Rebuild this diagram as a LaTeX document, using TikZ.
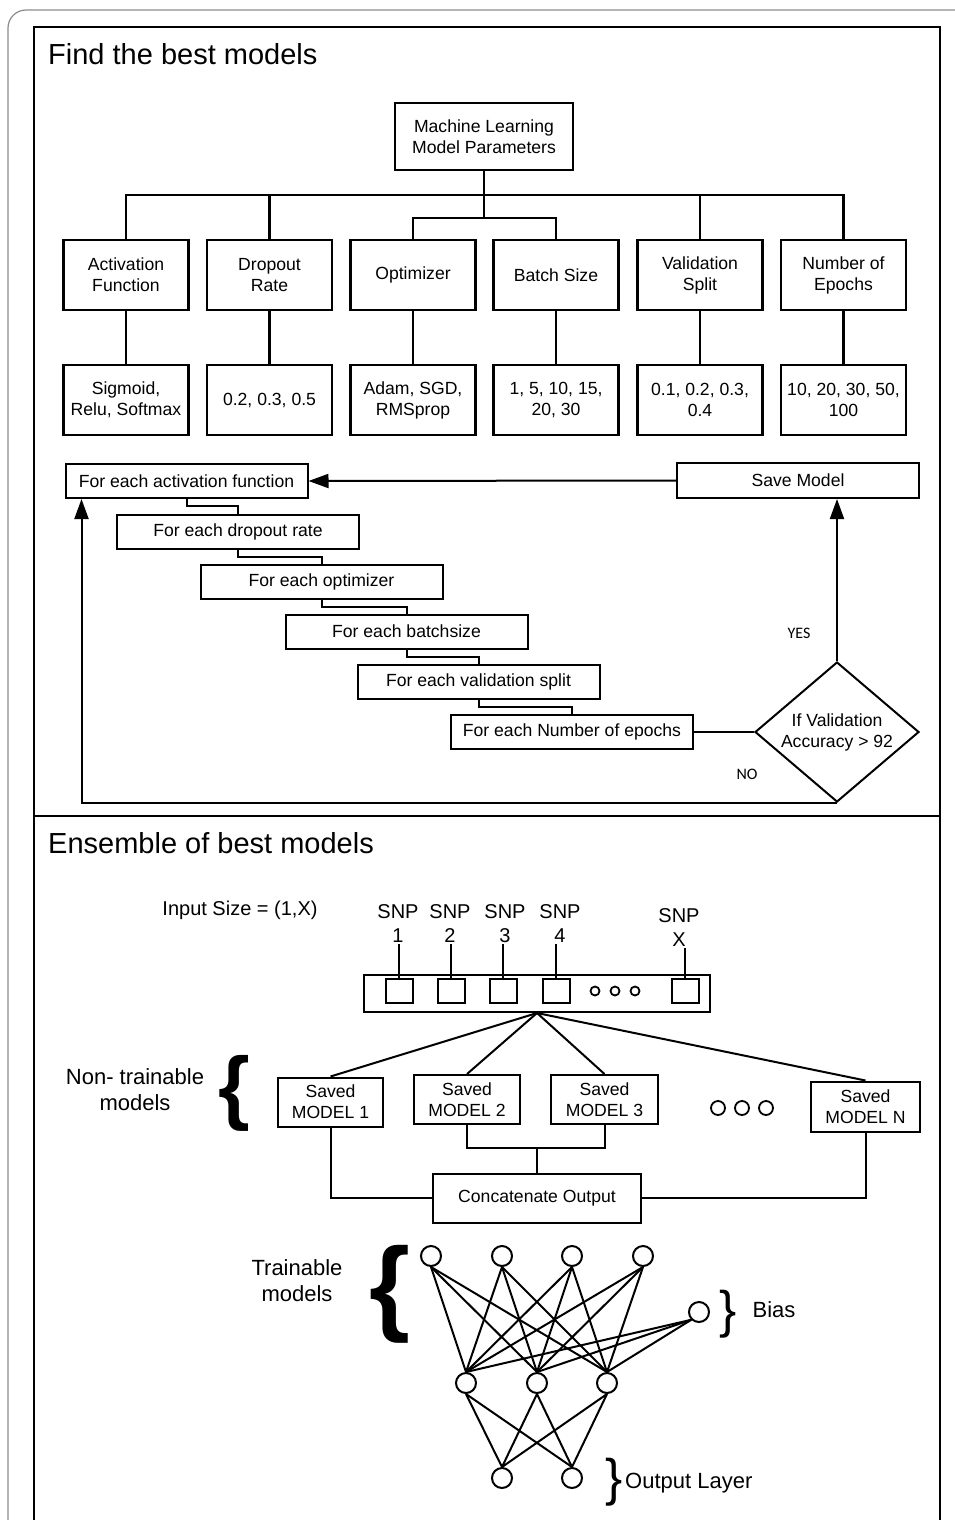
\documentclass[tikz,border=0pt]{standalone}
\usepackage{fontspec}
\setmainfont{Liberation Sans}
\newfontfamily\yesnofont{Carlito}
\usetikzlibrary{arrows.meta,shapes.geometric,calc}

\tikzset{
  lw/.style={line width=2pt},
  hier/.style={line width=2.4pt},
  txt/.style={font=\fontsize{17.6}{21}\selectfont},
  box/.style={draw, hier, minimum width=125pt, minimum height=70pt, inner sep=0pt, align=center, txt},
  flowbox/.style={draw, lw, minimum width=242pt, minimum height=34pt, inner sep=0pt, txt},
  modelbox/.style={draw, lw, minimum height=49pt, inner sep=0pt, align=center, txt},
  sq/.style={draw, lw, minimum width=27pt, minimum height=24pt, inner sep=0pt},
  neuron/.style={draw, circle, lw, minimum size=20pt, inner sep=0pt},
  ringdot/.style={draw, circle, line width=1.8pt, inner sep=0pt},
  snp/.style={align=center, inner sep=1pt, font=\fontsize{20}{24}\selectfont},
  arr/.style={-{Triangle[length=20pt,width=14pt]}},
  title/.style={anchor=base west, inner sep=0pt, font=\fontsize{29}{34}\selectfont},
  side/.style={align=center, font=\fontsize{22}{26}\selectfont},
  yn/.style={font=\yesnofont\fontsize{16}{19}\selectfont},
}

\begin{document}
\begin{tikzpicture}[x=1pt,y=-1pt]
\useasboundingbox (0,0) rectangle (955,1520);
\clip (0,0) rectangle (955,1520);

% frames
\draw[draw=black!45, line width=1.2pt, rounded corners=18pt] (8,1560) -- (8,10) -- (990,10);
\draw[lw] (34,1560) -- (34,27) -- (940,27) -- (940,1560);
\draw[lw] (34,816) -- (940,816);

\node[title] (t1) at (48,65) {Find the best models};
\node[title] (t2) at (48,853) {Ensemble of best models};

% parameter tree
\node[box, minimum width=178pt, minimum height=67pt] (ml) at (484,136.5) {Machine Learning\\Model Parameters};

\node[box] (af) at (126,275)   {Activation\\Function};
\node[box] (dr) at (269.5,275) {Dropout\\Rate};
\node[box] (op) at (413,275)   {Optimizer};
\node[box] (bs) at (556,275)   {Batch Size};
\node[box] (vs) at (700,275)   {Validation\\Split};
\node[box] (ne) at (843.5,275) {Number of\\Epochs};

\node[box] (afv) at (126,400)   {Sigmoid,\\Relu, Softmax};
\node[box] (drv) at (269.5,400) {0.2, 0.3, 0.5};
\node[box] (opv) at (413,400)   {Adam, SGD,\\RMSprop};
\node[box] (bsv) at (556,400)   {1, 5, 10, 15,\\20, 30};
\node[box] (vsv) at (700,400)   {0.1, 0.2, 0.3,\\0.4};
\node[box] (nev) at (843.5,400) {10, 20, 30, 50,\\100};

\coordinate (bus) at (484,195);
\coordinate (sub) at (484,218);
\draw[hier] (ml.south) -- (sub);
\draw[hier] (af.north) |- (bus) -| (ne.north);
\draw[hier] (dr.north) -- (dr.north |- bus);
\draw[hier] (vs.north) -- (vs.north |- bus);
\draw[hier] (op.north) |- (sub) -| (bs.north);
\foreach \p in {af,dr,op,bs,vs,ne}
  \draw[hier] (\p.south) -- (\p v.north);

% search loops
\node[flowbox] (fa) at (186.5,481)  {For each activation function};
\node[flowbox] (fd) at (238,531.5)  {For each dropout rate};
\node[flowbox] (fo) at (321.5,581.5) {For each optimizer};
\node[flowbox] (fb) at (406.5,631.5) {For each batchsize};
\node[flowbox] (fv) at (478.5,681.5) {For each validation split};
\node[flowbox] (fe) at (572,732)    {For each Number of epochs};
\node[flowbox, minimum height=35pt] (save) at (798,480.5) {Save Model};

\foreach \a/\b in {fa/fd,fd/fo,fo/fb,fb/fv,fv/fe}
  \draw[lw] (\a.south) |- ($(\a.south)!.5!(\b.north)$) -| (\b.north);

\node[draw, diamond, lw, aspect=1.17, minimum width=164pt, minimum height=140pt,
      inner sep=0pt, align=center, txt] (dia) at (837,732) {If Validation\\Accuracy > 92};

\draw[lw] (fe.east) -- (dia.west);
\draw[lw, arr] (dia.north) -- (dia.north |- save.south);
\draw[lw, arr] (save.west) -- (fa.east);
\draw[lw, arr] (dia.south) -| ($(fa.south west)+(17,0)$);

\node[yn] (yes) at (799,633) {YES};
\node[yn] (no) at (747,774) {NO};

% input vector
\node[font=\fontsize{20}{24}\selectfont] (insize) at (240,910) {Input Size = (1,X)};
\node[draw, lw, minimum width=346pt, minimum height=37pt, inner sep=0pt] (strip) at (537,993.5) {};

\node[sq] (s1) at (399,991) {};
\node[sq] (s2) at (451,991) {};
\node[sq] (s3) at (503,991) {};
\node[sq] (s4) at (556,991) {};
\node[sq] (sx) at (685,991) {};

\node[snp] (l1) at (398,924) {SNP\\1};
\node[snp] (l2) at (450,924) {SNP\\2};
\node[snp] (l3) at (505,924) {SNP\\3};
\node[snp] (l4) at (560,924) {SNP\\4};
\node[snp] (lx) at (679,928) {SNP\\X};
\foreach \s/\l in {s1/l1,s2/l2,s3/l3,s4/l4}
  \draw[lw] (\s.north) -- (\s.north |- \l.south);
\draw[lw] (sx.north) -- (sx.north |- lx.south);

\node[ringdot, minimum size=9pt] (v1) at (595,991) {};
\node[ringdot, minimum size=9pt] (v2) at (615,991) {};
\node[ringdot, minimum size=9pt] (v3) at (635,991) {};

% saved models
\node[modelbox, minimum width=105pt] (m1) at (330.5,1102) {Saved\\MODEL 1};
\node[modelbox, minimum width=106pt] (m2) at (467,1099.5) {Saved\\MODEL 2};
\node[modelbox, minimum width=107pt] (m3) at (604.5,1099.5) {Saved\\MODEL 3};
\node[modelbox, minimum width=109pt, minimum height=50pt] (mn) at (865.5,1106.5) {Saved\\MODEL N};
\node[ringdot, minimum size=14pt] (w1) at (718,1108) {};
\node[ringdot, minimum size=14pt] (w2) at (742,1108) {};
\node[ringdot, minimum size=14pt] (w3) at (766,1108) {};

\foreach \m in {m1,m2,m3,mn}
  \draw[lw] (strip.south) -- (\m.north);

\node[modelbox, minimum width=208pt] (cat) at (537,1198) {Concatenate Output};
\coordinate (jn) at (537,1148);
\draw[lw] (m1.south) |- (cat.west);
\draw[lw] (mn.south) |- (cat.east);
\draw[lw] (m2.south) |- (jn) -| (m3.south);
\draw[lw] (jn) -- (cat.north);

\node[side] (nt) at (135,1090) {Non- trainable\\models};
\node (br1) at (234,1093) {\resizebox*{!}{76pt}{\bfseries\{}};

% trainable network
\node[neuron] (i1) at (431,1256) {};
\node[neuron] (i2) at (502,1256) {};
\node[neuron] (i3) at (572,1256) {};
\node[neuron] (i4) at (643,1256) {};
\node[neuron] (b)  at (699,1312) {};
\node[neuron] (h1) at (466,1383) {};
\node[neuron] (h2) at (537,1383) {};
\node[neuron] (h3) at (607,1383) {};
\node[neuron] (o1) at (502,1478) {};
\node[neuron] (o2) at (572,1478) {};

\foreach \i in {i1,i2,i3,i4}
  \foreach \h in {h1,h2,h3}
    \draw[lw] (\i.south) -- (\h.north);
\foreach \h in {h1,h2,h3}
  \draw[lw] (b.225) -- (\h.north);
\foreach \h in {h1,h2,h3}
  \foreach \o in {o1,o2}
    \draw[lw] (\h.south) -- (\o.north);

\node[side] (tm) at (297,1281) {Trainable\\models};
\node (br2) at (390,1294) {\resizebox*{!}{98pt}{\bfseries\{}};
\node (br3) at (728,1314) {\resizebox*{!}{48pt}{\}}};
\node[font=\fontsize{22}{26}\selectfont] (bias) at (774,1310) {Bias};
\node (br4) at (614,1482) {\resizebox*{!}{48pt}{\}}};
\node[anchor=west, inner sep=0pt, font=\fontsize{22}{26}\selectfont] (outl) at (625,1483) {Output Layer};

\end{tikzpicture}
\end{document}
